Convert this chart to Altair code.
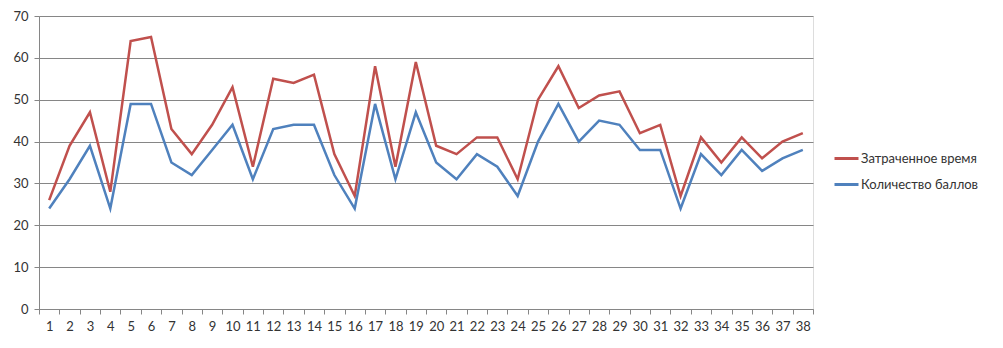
import altair as alt
import pandas as pd

categories = [str(i) for i in range(1, 39)]
time_spent = [26, 39, 47, 28, 64, 65, 43, 37, 44, 53, 34, 55, 54, 56, 37, 27, 58, 34, 59, 39,
              37, 41, 41, 31, 50, 58, 48, 51, 52, 42, 44, 27, 41, 35, 41, 36, 40, 42]
scores = [24, 31, 39, 24, 49, 49, 35, 32, 38, 44, 31, 43, 44, 44, 32, 24, 49, 31, 47, 35,
          31, 37, 34, 27, 40, 49, 40, 45, 44, 38, 38, 24, 37, 32, 38, 33, 36, 38]
series_names = ["Затраченное время", "Количество баллов"]
series_colors = ["#C0504D", "#4F81BD"]

rows = []
for c, v in zip(categories, time_spent):
    rows.append({"cat": c, "val": v, "series": series_names[0]})
for c, v in zip(categories, scores):
    rows.append({"cat": c, "val": v, "series": series_names[1]})
df = pd.DataFrame(rows)

FONT = "Lato"
LABEL_COLOR = "#333333"

chart = alt.Chart(df).mark_line(strokeWidth=2.5).encode(
    x=alt.X("cat:N", sort=categories, bandPosition=0.5,
            scale=alt.Scale(type="band", paddingInner=0, paddingOuter=0),
            axis=alt.Axis(title=None, labelAngle=0, tickBand="extent", grid=False,
                          domainColor="#868686", tickColor="#868686", tickSize=5,
                          labelPadding=6, labelFontSize=13, labelColor=LABEL_COLOR,
                          labelFont=FONT)),
    y=alt.Y("val:Q", scale=alt.Scale(domain=[0, 70], nice=False),
            axis=alt.Axis(title=None, values=[0, 10, 20, 30, 40, 50, 60, 70],
                          grid=True, gridColor="#868686", gridWidth=1,
                          domainColor="#868686", tickColor="#868686", tickSize=5,
                          labelPadding=6, labelFontSize=13, labelColor=LABEL_COLOR,
                          labelFont=FONT)),
    color=alt.Color("series:N",
                    scale=alt.Scale(domain=series_names, range=series_colors),
                    legend=alt.Legend(title=None, orient="none", legendX=794, legendY=129,
                                      symbolType="stroke", symbolSize=576,
                                      symbolStrokeWidth=3, labelFontSize=13,
                                      labelFont=FONT, labelColor=LABEL_COLOR,
                                      rowPadding=5, labelOffset=1)),
    order=alt.Order("series:N"),
).properties(
    width=774, height=293,
    autosize=alt.AutoSizeParams(type="none"),
    padding={"left": 31, "top": 8, "right": 182, "bottom": 31},
).configure_view(stroke=None).configure(background="white")

chart.save("out.html", embed_options={"renderer": "svg", "actions": False})
